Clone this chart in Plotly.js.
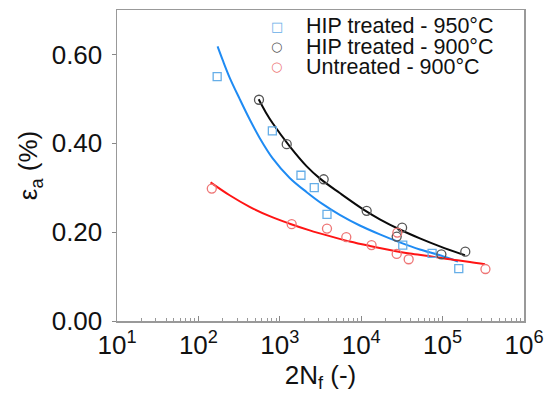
<!DOCTYPE html>
<html>
<head>
<meta charset="utf-8">
<script src="https://cdn.plot.ly/plotly-3.0.1.min.js"></script>
<style>html,body{margin:0;padding:0;background:#fff;}#chart{width:547px;height:401px;}</style>
</head>
<body>
<div id="chart"></div>
<script>
// ---- Data ----
var seriesNames = ['HIP treated - 950°C', 'HIP treated - 900°C', 'Untreated - 900°C'];

// measured points
var hip950X = [170, 810, 1820, 2650, 3800, 32400, 74300, 158000];
var hip950Y = [0.55, 0.428, 0.328, 0.300, 0.240, 0.171, 0.152, 0.118];

var hip900X = [555, 1216, 3460, 11670, 27300, 31800, 96600, 190000];
var hip900Y = [0.498, 0.398, 0.319, 0.248, 0.190, 0.210, 0.150, 0.156];

var untrX = [146, 1400, 3800, 6560, 13400, 27300, 27800, 38300, 336000];
var untrY = [0.298, 0.218, 0.208, 0.189, 0.171, 0.151, 0.199, 0.139, 0.117];

// fitted curves
var fit950X = [172, 199, 242, 321, 426, 566, 818, 1324, 2142, 3371, 5455, 9612, 16940, 29840, 52580, 92640, 154300];
var fit950Y = [0.618, 0.587, 0.548, 0.500, 0.454, 0.412, 0.366, 0.322, 0.290, 0.263, 0.239, 0.215, 0.195, 0.177, 0.161, 0.148, 0.134];

var fit900X = [550, 671, 818, 1324, 2142, 3096, 5455, 11070, 16940, 29840, 52580, 92640, 188100];
var fit900Y = [0.499, 0.470, 0.445, 0.393, 0.348, 0.321, 0.288, 0.249, 0.229, 0.206, 0.186, 0.168, 0.148];

var fitUnX = [141, 242, 426, 751, 1324, 2332, 4110, 7240, 12760, 22470, 39600, 69800, 123000, 216700, 331400];
var fitUnY = [0.312, 0.283, 0.257, 0.236, 0.219, 0.204, 0.191, 0.179, 0.169, 0.160, 0.152, 0.146, 0.139, 0.133, 0.128];

var xTickVals = [1e1, 1e2, 1e3, 1e4, 1e5, 1e6];
var xTickText = ['10<sup>1</sup>', '10<sup>2</sup>', '10<sup>3</sup>', '10<sup>4</sup>', '10<sup>5</sup>', '10<sup>6</sup>'];
var yTickVals = [0, 0.2, 0.4, 0.6];
var yTickText = ['0.00', '0.20', '0.40', '0.60'];

// ---- styles ----
var FONT = 'Liberation Sans, Arial, Helvetica, sans-serif';
var cBlueLine = '#1f8bf3', cBlueMk = '#66aee8';
var cBlackLine = '#0a0a0a', cBlackMk = '#555555';
var cRedLine = '#ff1414', cRedMk = '#ee7676';

var traces = [
  {x: fit950X, y: fit950Y, mode: 'lines', line: {color: cBlueLine, width: 2, shape: 'spline', smoothing: 1}, showlegend: false, hoverinfo: 'skip'},
  {x: fit900X, y: fit900Y, mode: 'lines', line: {color: cBlackLine, width: 2, shape: 'spline', smoothing: 1}, showlegend: false, hoverinfo: 'skip'},
  {x: fitUnX, y: fitUnY, mode: 'lines', line: {color: cRedLine, width: 2, shape: 'spline', smoothing: 1}, showlegend: false, hoverinfo: 'skip'},
  {x: hip950X, y: hip950Y, mode: 'markers', name: seriesNames[0], marker: {symbol: 'square-open', size: 8, color: cBlueMk, line: {width: 1.3}}, showlegend: false},
  {x: hip900X, y: hip900Y, mode: 'markers', name: seriesNames[1], marker: {symbol: 'circle-open', size: 9, color: cBlackMk, line: {width: 1.3}}, showlegend: false},
  {x: untrX, y: untrY, mode: 'markers', name: seriesNames[2], marker: {symbol: 'circle-open', size: 9, color: cRedMk, line: {width: 1.3}}, showlegend: false}
];

// legend drawn as text (compact spacing like the reference)
var legRows = [0.947, 0.882, 0.818];
var legKeys = ['□', '○', '○'];
var legColors = [cBlueMk, cBlackMk, cRedMk];
var annotations = [];
for (var i = 0; i < seriesNames.length; i++) {
  annotations.push({xref: 'paper', yref: 'paper', x: 0.393, y: legRows[i], xanchor: 'center', yanchor: 'middle',
    text: legKeys[i], showarrow: false, font: {family: 'DejaVu Sans', size: 13, color: legColors[i]}});
  annotations.push({xref: 'paper', yref: 'paper', x: 0.46, y: legRows[i], xanchor: 'left', yanchor: 'middle',
    text: seriesNames[i], showarrow: false, font: {family: FONT, size: 21.5, color: '#111'}});
}

var layout = {
  width: 547, height: 401,
  margin: {l: 117, r: 23, t: 10, b: 80, pad: 0},
  paper_bgcolor: '#fff', plot_bgcolor: '#fff',
  showlegend: false,
  font: {family: FONT, color: '#111'},
  xaxis: {
    type: 'log', range: [1, 6], tickmode: 'array', tickvals: xTickVals, ticktext: xTickText,
    ticks: 'inside', ticklen: 5, tickwidth: 1, tickcolor: '#888',
    minor: {ticks: 'inside', ticklen: 3, dtick: 'D1', tickcolor: '#999', tickwidth: 1, showgrid: false},
    showline: true, linecolor: '#999', linewidth: 1.5, mirror: true,
    showgrid: false, zeroline: false,
    tickfont: {size: 26, color: '#111', family: FONT},
    title: {text: '2N<sub>f</sub> (-)', font: {size: 26, color: '#111', family: FONT}, standoff: 6}
  },
  yaxis: {
    range: [0, 0.7], tickmode: 'array', tickvals: yTickVals, ticktext: yTickText,
    ticks: 'outside', ticklen: 4, tickwidth: 1, tickcolor: '#888',
    showline: true, linecolor: '#999', linewidth: 1.5, mirror: true,
    showgrid: false, zeroline: false, ticklabelstandoff: 4,
    tickfont: {size: 26, color: '#111', family: FONT},
    title: {text: 'ε<sub>a</sub> (%)', font: {size: 26, color: '#111', family: FONT}, standoff: 6}
  },
  annotations: annotations
};

Plotly.newPlot('chart', traces, layout, {displayModeBar: false, staticPlot: true});
</script>
</body>
</html>
